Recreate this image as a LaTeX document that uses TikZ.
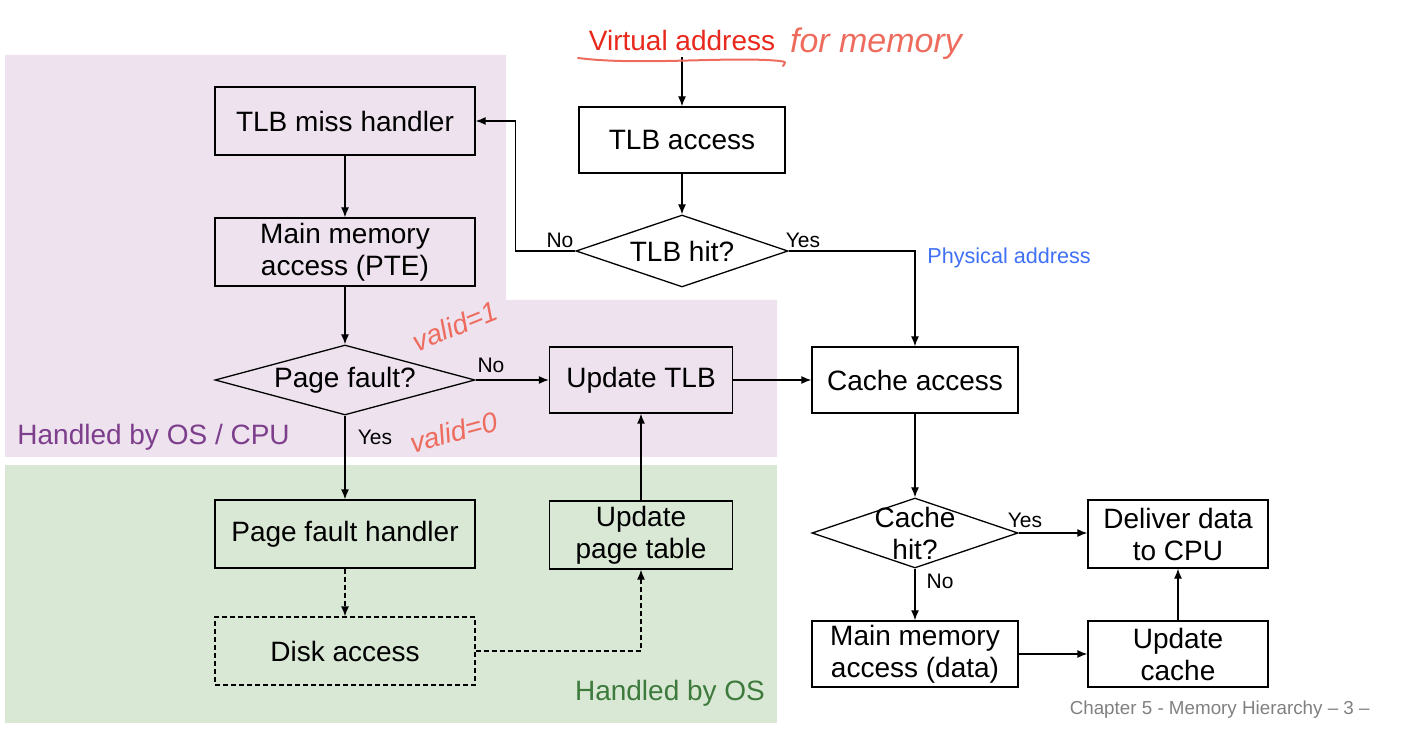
\documentclass[tikz,border=0pt]{standalone}
\usepackage{fontspec}
\setmainfont{Liberation Sans}
\usepackage{xcolor}
\usetikzlibrary{arrows.meta,shapes.geometric}

\definecolor{osbg}{RGB}{237,226,238}
\definecolor{hwbg}{RGB}{216,232,213}
\definecolor{ostext}{RGB}{125,62,140}
\definecolor{hwtext}{RGB}{62,122,60}
\definecolor{physblue}{RGB}{64,112,245}
\definecolor{vared}{RGB}{232,40,28}
\definecolor{scrawl}{RGB}{238,108,94}
\definecolor{footgray}{RGB}{128,128,128}

\begin{document}
\begin{tikzpicture}[x=0.5pt,y=-0.5pt,
every node/.style={align=center,font=\fontsize{14}{16}\selectfont},
box/.style={draw,line width=.65pt,minimum width=130pt,minimum height=34pt,inner sep=2pt},
decision/.style={draw,diamond,line width=.65pt,inner sep=0pt},
lbl/.style={font=\fontsize{10.5}{12}\selectfont,inner sep=0pt},
note/.style={text=scrawl,font=\fontsize{14}{16}\selectfont\itshape,inner sep=0pt},
go/.style={-{Latex[length=5pt,width=4pt]},line width=.65pt}]
\useasboundingbox (0,0) rectangle (1408,732);
% shaded regions
\fill[osbg] (5,55) -- (506,55) -- (506,300) -- (777,300) -- (777,457) -- (5,457) -- cycle;
\fill[hwbg] (5,465) rectangle (777,723);
\node[anchor=west,text=ostext,inner sep=0pt] (oslbl) at (17,437) {Handled by OS / CPU};
\node[text=hwtext] (hwlbl) at (670,693) {Handled by OS};
% translation path
\node[text=vared] (va) at (682,40) {Virtual address};
\node[box,minimum width=103pt,minimum height=33pt] (tacc) at (682,140) {TLB access};
\node[decision,minimum width=106pt,minimum height=36pt,label={center:TLB hit?}] (thit) at (682,251) {};
\node[box] (tmiss) at (345,121) {TLB miss handler};
\node[box] (mpte) at (345,252) {Main memory\\access (PTE)};
\node[decision,minimum width=130pt,minimum height=35pt,label={center:Page fault?}] (pf) at (345,380) {};
\node[box] (pfh) at (345,534) {Page fault handler};
\node[box,dashed,dash pattern=on 2.5pt off 1.5pt] (disk) at (345,651) {Disk access};
\node[box,minimum width=91.5pt] (upt) at (641,535) {Update\\page table};
\node[box,minimum width=91.5pt,minimum height=33pt] (utlb) at (641,380) {Update TLB};
% cache path
\node[box,minimum width=103pt,minimum height=33pt] (cacc) at (915,380) {Cache access};
\node[decision,minimum width=103pt,minimum height=35pt,label={center:Cache\\hit?}] (chit) at (915,533) {};
\node[box,minimum width=90pt] (deliver) at (1178,534) {Deliver data\\to CPU};
\node[box,minimum width=103pt,minimum height=33pt] (mdata) at (915,654) {Main memory\\access (data)};
\node[box,minimum width=90pt,minimum height=33pt] (ucache) at (1178,654) {Update\\cache};
% connectors
\draw[go] (va) -- (tacc);
\draw[go] (tacc) -- (thit);
\draw[go] (thit.west) -| ++(-60,0) |- (tmiss.east);
\draw[go] (thit.east) -| (cacc.north);
\draw[go] (tmiss) -- (mpte);
\draw[go] (mpte) -- (pf);
\draw[go] (pf.east) -- (utlb.west);
\draw[go] (pf.south) -- (pfh.north);
\draw[go,dashed,dash pattern=on 2.5pt off 1.5pt] (pfh) -- (disk);
\draw[go,dashed,dash pattern=on 2.5pt off 1.5pt] (disk.east) -| (upt.south);
\draw[go] (upt) -- (utlb);
\draw[go] (utlb) -- (cacc);
\draw[go] (cacc) -- (chit);
\draw[go] (chit.east) -- (chit.east -| deliver.west);
\draw[go] (chit.south) -- (mdata.north);
\draw[go] (mdata) -- (ucache);
\draw[go] (ucache) -- (deliver);
% branch labels
\node[lbl] (tno) at (560,240) {No};
\node[lbl] (tyes) at (803,240) {Yes};
\node[lbl] (pfno) at (491,365) {No};
\node[lbl] (pfyes) at (375,437) {Yes};
\node[lbl] (cyes) at (1025,520) {Yes};
\node[lbl] (cno) at (940,581) {No};
\node[text=physblue,font=\fontsize{10.8}{12}\selectfont,anchor=west,inner sep=0pt] (phys) at (927,258) {Physical address};
\node[text=footgray,font=\fontsize{9.4}{11}\selectfont,anchor=east,inner sep=0pt] (foot) at (1370,710) {Chapter 5 - Memory Hierarchy – 3 –};
% handwritten notes
\draw[scrawl,line width=1pt,line cap=round] (578,58) .. controls (640,66) and (730,56) .. (780,61) .. controls (786,62) .. (783,66);
\node[note,font=\fontsize{17}{18}\selectfont\itshape] (formem) at (876,44) {for memory};
\node[note,rotate=22] (valid1) at (455,326) {valid=1};
\node[note,rotate=15] (valid0) at (454,432) {valid=0};
\end{tikzpicture}
\end{document}
